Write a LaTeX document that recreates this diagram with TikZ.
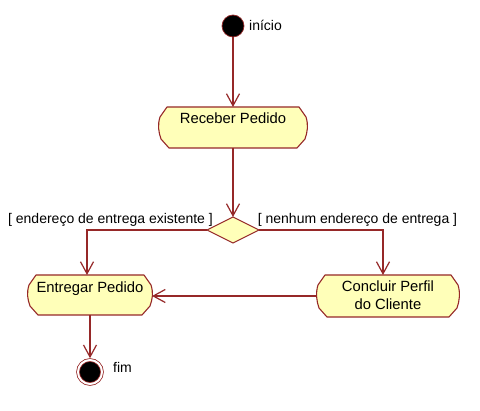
\documentclass[tikz,border=0pt]{standalone}
\usepackage{fontspec}
\setmainfont{Liberation Sans}
\usetikzlibrary{arrows.meta,calc,shapes.geometric,backgrounds}
\definecolor{umlline}{RGB}{150,40,40}
\definecolor{umlfill}{RGB}{255,255,185}
\newcommand\actoutline[1]{%
 \begin{pgfonlayer}{background}
 \filldraw[actedge] ($(#1.north west)+(8,0)$) -- ($(#1.north west)+(1,10)$)
 .. controls ($(#1.north west)+(-1.5,18)$) and ($(#1.south west)+(-0.5,-16)$) .. ($(#1.south west)+(2,-9)$)
 -- ($(#1.south west)+(10,0)$) -- ($(#1.south east)+(-10,0)$) -- ($(#1.south east)+(-2,-9)$)
 .. controls ($(#1.south east)+(0.5,-16)$) and ($(#1.north east)+(1.5,18)$) .. ($(#1.north east)+(-1,10)$)
 -- ($(#1.north east)+(-8,0)$) -- cycle;
 \end{pgfonlayer}}
\tikzset{
 actedge/.style={draw=umlline, fill=umlfill, line width=1.1pt, line join=round},
 activity/.style={rectangle, inner sep=0pt, outer sep=0pt, text=black, font=\fontsize{14.8}{17.6}\selectfont},
 flow/.style={draw=umlline, line width=1.2pt, -{Straight Barb[length=12pt,width=13pt]}},
 lbl/.style={inner sep=0pt, text=black},
 startnode/.style={circle, fill=black, draw=umlline, line width=0.7pt, minimum size=22pt, inner sep=0pt, outer sep=0pt},
 endnode/.style={circle, fill=black, draw=umlline, line width=0.8pt, double=white, double distance=2pt, minimum size=24pt, inner sep=0pt, outer sep=1.8pt},
 decision/.style={diamond, draw=umlline, fill=umlfill, line width=1.1pt, minimum width=52pt, minimum height=26pt, inner sep=0pt, outer sep=0pt},
}
\begin{document}
\begin{tikzpicture}[x=1pt, y=-1pt, every node/.style={font=\fontsize{14}{17.6}\selectfont}]
\useasboundingbox (0,0) rectangle (480,411);
\begin{pgfonlayer}{background}
\fill[white] (0,0) rectangle (480,411);
\end{pgfonlayer}

\node[startnode] (start) at (233,26) {};
\node[lbl, anchor=base west] (startlbl) at (249,30.7) {início};

\node[activity] (recv) at (233,127.5) {\parbox[c][41pt][t]{148pt}{\centering\rule{0pt}{16.3pt}Receber Pedido}};
\actoutline{recv}

\node[decision] (dec) at (233,230) {};

\node[lbl, anchor=base] (lblleft) at (110.5,223.3) {[ endereço de entrega existente ]};
\node[lbl, anchor=base] (lblright) at (357.5,223.3) {[ nenhum endereço de entrega ]};

\node[activity] (ent) at (90,295) {\parbox[c][40pt][t]{124pt}{\centering\rule{0pt}{17.3pt}Entregar Pedido}};
\actoutline{ent}

\node[activity] (conc) at (388,296) {\parbox[c][42pt][t]{142pt}{\centering\rule{0pt}{16.7pt}Concluir Perfil\\do Cliente}};
\actoutline{conc}

\node[endnode] (fim) at (90,372) {};
\node[lbl, anchor=base west] (fimlbl) at (113,372.7) {fim};

\draw[flow] (start) -- (recv);
\draw[flow] (recv) -- (dec);
\draw[flow] (dec.west) -| ([xshift=-3pt]ent.north);
\draw[flow] (dec.east) -| ([xshift=-5pt]conc.north);
\draw[flow] (conc.west) -- (conc.west -| ent.east);
\draw[flow] (ent) -- (fim);
\end{tikzpicture}
\end{document}
